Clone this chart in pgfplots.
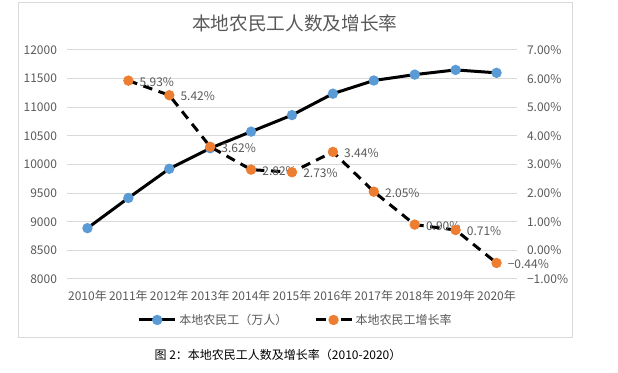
\documentclass[border=0pt]{standalone}
\usepackage{fontspec}
\setmainfont{Noto Sans CJK SC}
\usepackage{pgfplots}
\pgfplotsset{compat=1.18}
\definecolor{sblue}{HTML}{5B9BD5}
\definecolor{sorange}{HTML}{ED7D31}
\definecolor{gridc}{HTML}{D9D9D9}
\definecolor{txt}{HTML}{595959}
\pgfplotsset{dashleg/.style={legend image code/.code={\draw[##1, dash pattern=on 8pt off 11pt, mark=none] (0pt,0pt) -- (27pt,0pt);
    \draw[##1] plot coordinates {(13.5pt,0pt)};}}}
\begin{document}
\begin{tikzpicture}
\path[use as bounding box] (0,0) rectangle (463.5pt,279.75pt);
\draw[gridc, line width=0.75pt] (13.5pt,26.25pt) rectangle (429pt,277.5pt);
\node[text=txt, font=\fontsize{14pt}{16pt}\selectfont] at (221pt,262pt) {本地农民工人数及增长率};
\node[text=black, font=\fontsize{9pt}{11pt}\selectfont] at (208.5pt,13.5pt) {图 2：本地农民工人数及增长率（2010-2020）};
\pgfplotsset{common/.style={at={(50.25pt,70.5pt)}, anchor=south west, scale only axis,
  width=337.5pt, height=171.75pt, xmin=-0.5, xmax=10.5,
  axis line style={draw=none}, major tick length=0pt, scaled y ticks=false,
  tick label style={font=\fontsize{9pt}{10pt}\selectfont, text=txt}}}
\begin{axis}[common, ymin=8000, ymax=12000,
  ytick={8000,8500,9000,9500,10000,10500,11000,11500,12000},
  yticklabels={8000,8500,9000,9500,10000,10500,11000,11500,12000},
  ymajorgrids, grid style={gridc, line width=0.75pt},
  xtick={0,1,2,3,4,5,6,7,8,9,10},
  xticklabels={2010年,2011年,2012年,2013年,2014年,2015年,2016年,2017年,2018年,2019年,2020年},
  xticklabel style={yshift=-5pt}, yticklabel style={xshift=-4pt}]
\addplot[black, line width=2.25pt, mark=*, mark size=2.7pt, mark options={fill=sblue, draw=sblue, solid}]
  coordinates {(0,8888) (1,9415) (2,9925) (3,10284) (4,10574) (5,10863) (6,11237) (7,11467) (8,11570) (9,11652) (10,11601)};
\end{axis}
\begin{axis}[common, axis y line*=right, ymin=-1, ymax=7,
  ytick={-1,0,1,2,3,4,5,6,7},
  yticklabels={−1.00\%,0.00\%,1.00\%,2.00\%,3.00\%,4.00\%,5.00\%,6.00\%,7.00\%},
  xtick=\empty, yticklabel style={xshift=4pt},
  legend style={at={(0.509,-0.179)}, anchor=center, draw=none, fill=none, legend columns=2,
    font=\fontsize{9pt}{10pt}\selectfont, text=txt,
    /tikz/every even column/.append style={column sep=18pt}},
  legend image code/.code={\draw[mark repeat=2,mark phase=2,#1] plot coordinates {(0pt,0pt) (13.5pt,0pt) (27pt,0pt)};}]
\addlegendimage{black, line width=2.25pt, mark=*, mark size=2.7pt, mark options={fill=sblue, draw=sblue, solid}}
\addlegendentry{本地农民工（万人）}
\addplot[black, line width=2.25pt, dash pattern=on 7pt off 5pt, mark=*, mark size=2.7pt,
  mark options={fill=sorange, draw=sorange, solid}, dashleg,
  nodes near coords, point meta=explicit symbolic,
  nodes near coords style={anchor=west, xshift=4pt, yshift=-1pt, font=\fontsize{9pt}{10pt}\selectfont, text=txt}]
  coordinates {(1,5.93) [5.93\%] (2,5.42) [5.42\%] (3,3.62) [3.62\%] (4,2.82) [2.82\%] (5,2.73) [2.73\%]
   (6,3.44) [3.44\%] (7,2.05) [2.05\%] (8,0.90) [0.90\%] (9,0.71) [0.71\%] (10,-0.44) [−0.44\%]};
\addlegendentry{本地农民工增长率}
\end{axis}
\end{tikzpicture}
\end{document}
